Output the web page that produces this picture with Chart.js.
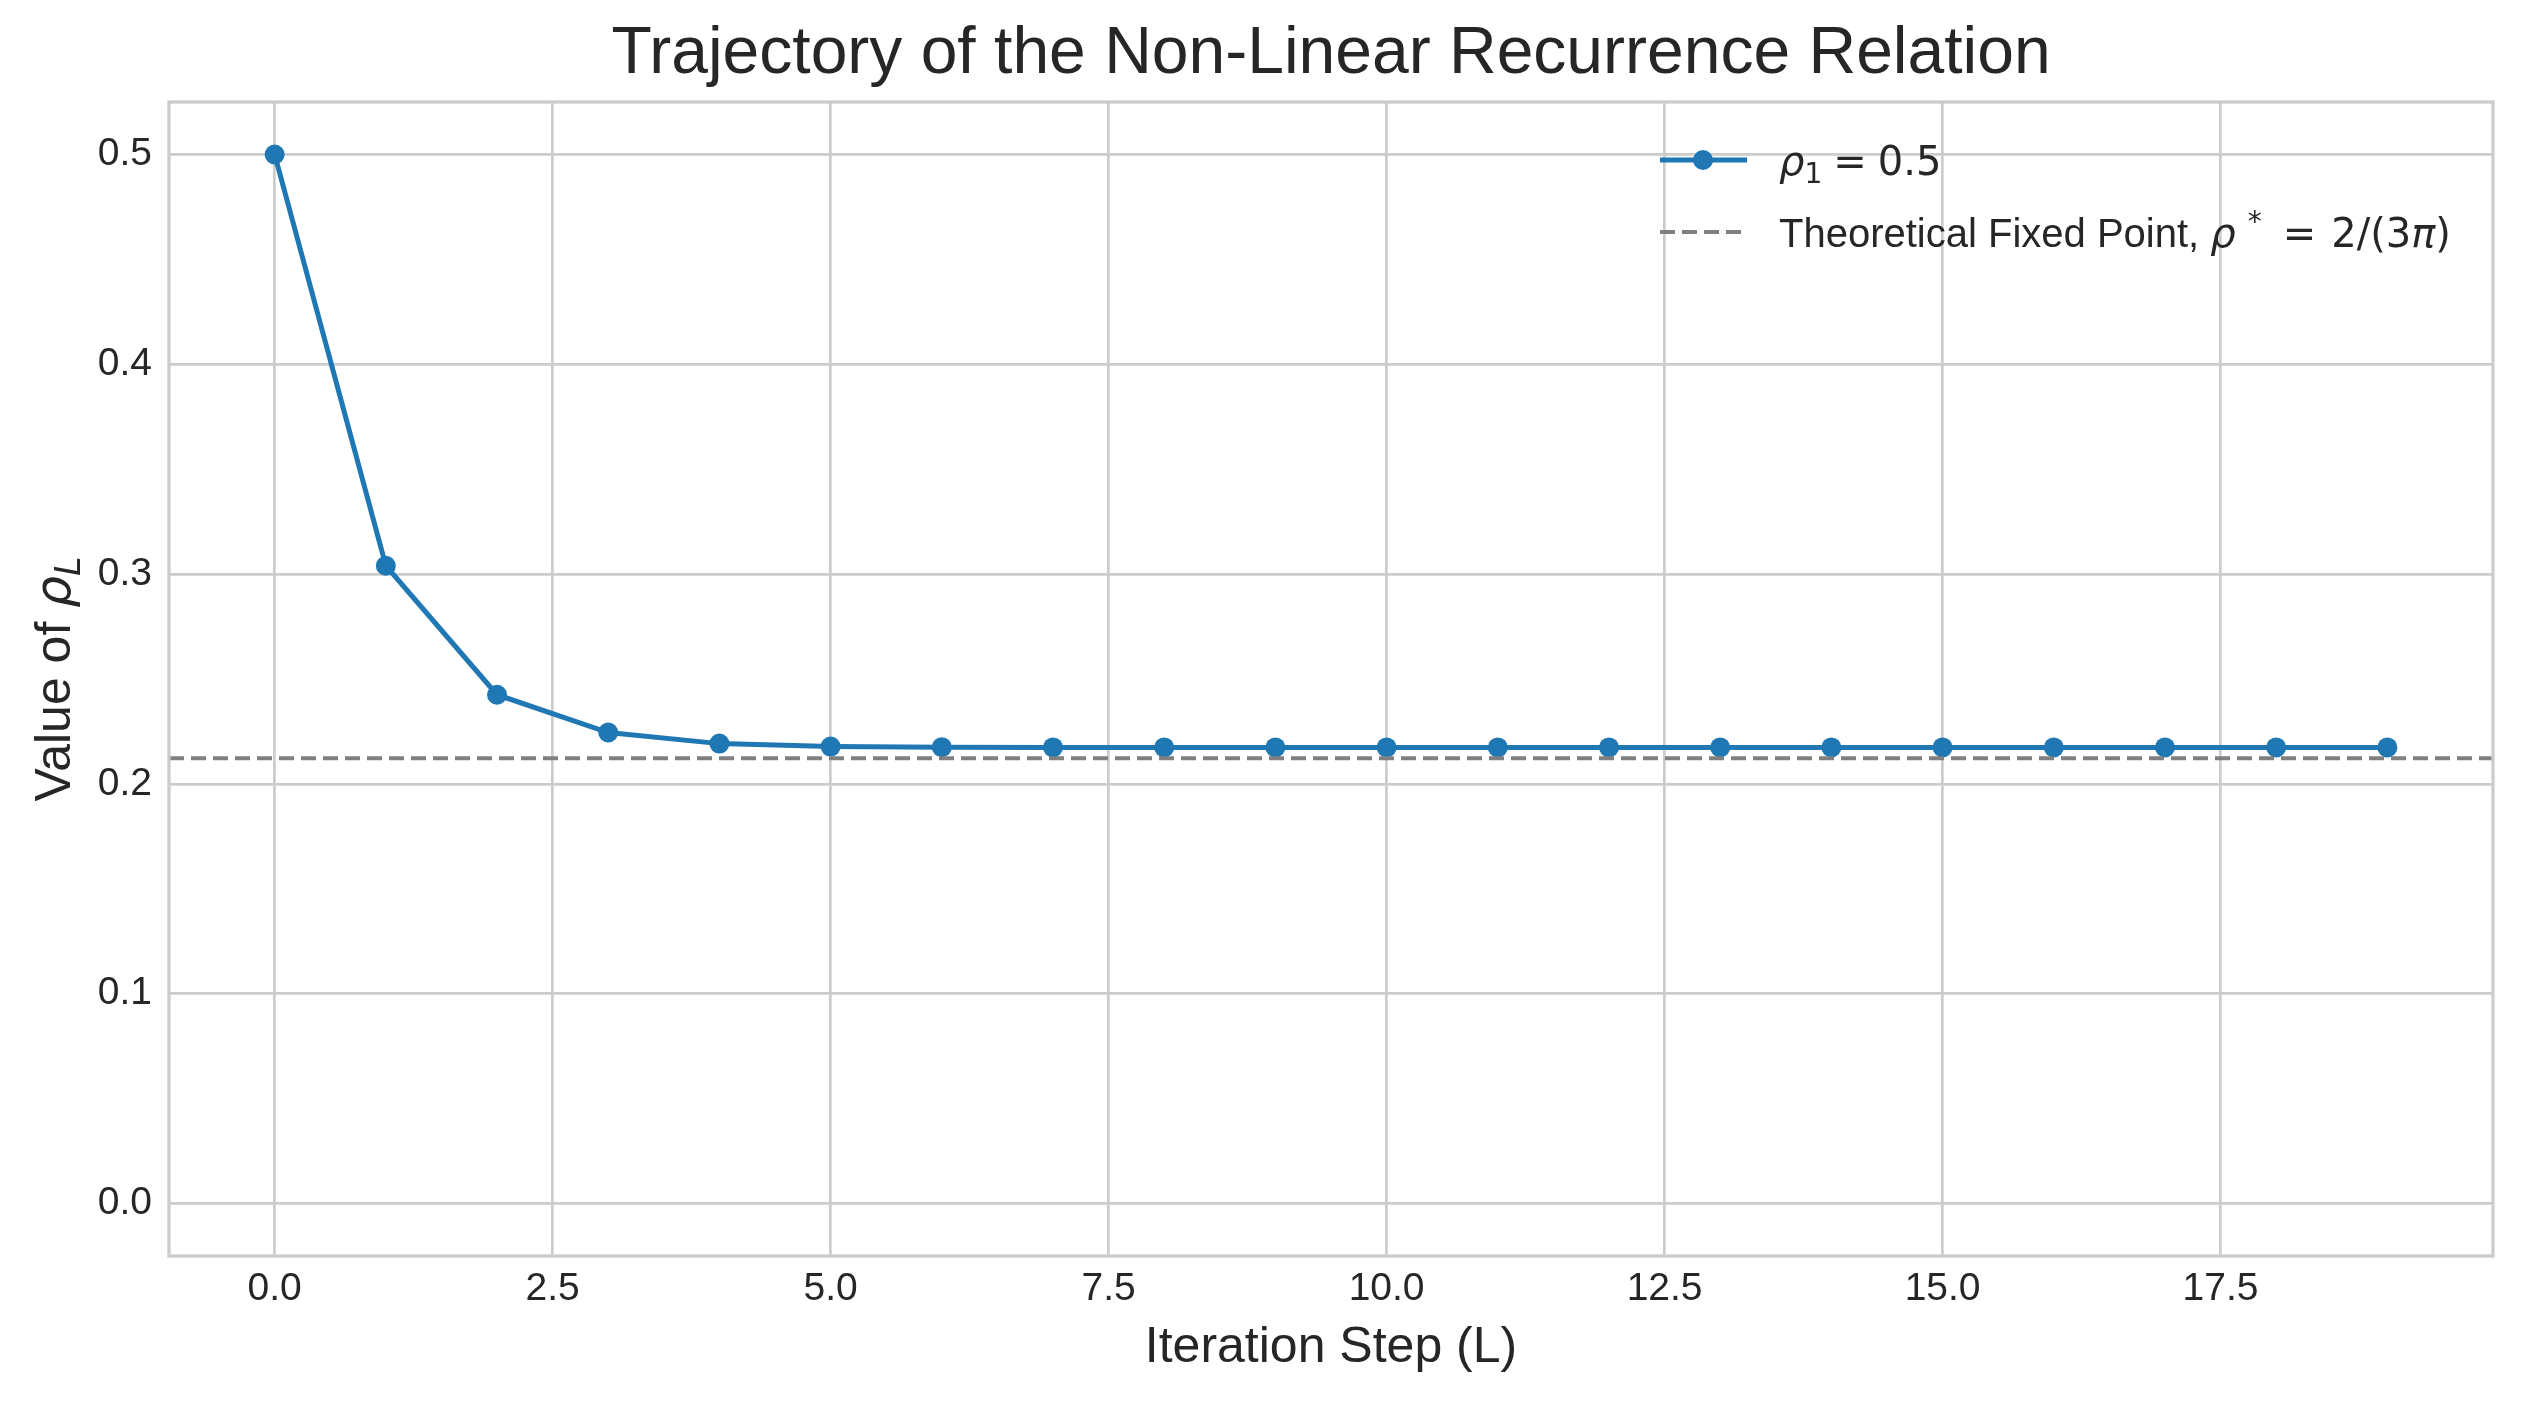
<!DOCTYPE html>
<html><head><meta charset="utf-8">
<script src="https://cdn.jsdelivr.net/npm/chart.js@4.4.0/dist/chart.umd.min.js"></script>
<style>html,body{margin:0;padding:0;background:#fff;}canvas{display:block;}</style>
</head><body>
<canvas id="c" width="2524" height="1405"></canvas>
<script>
// ---- data ----
const steps = [0,1,2,3,4,5,6,7,8,9,10,11,12,13,14,15,16,17,18,19];
const rhoValues = [0.5,0.304,0.2425,0.2245,0.2192,0.2178,0.2175,0.2174,0.2174,0.2174,0.2174,0.2174,0.2174,0.2174,0.2174,0.2174,0.2174,0.2174,0.2174,0.2174];
const FIXED_POINT = 0.2122; // 2/(3π)
const xTickValues = [0,2.5,5,7.5,10,12.5,15,17.5];
const yTickValues = [0,0.1,0.2,0.3,0.4,0.5];
const xLimits = [-0.95, 19.95];
const yLimits = [-0.025, 0.525];
const titleText = 'Trajectory of the Non-Linear Recurrence Relation';
const xTitle = 'Iteration Step (L)';
const seriesLabel = 'ρ1 = 0.5';
const fixedLabel = 'Theoretical Fixed Point, ρ* = 2/(3π)';

const TXT = '#262626', GRID = '#cccccc', BLUE = '#1f77b4', GRAY = '#808080';
const SANS = '"Liberation Sans", Arial, sans-serif';
const MATH = '"DejaVu Sans", sans-serif';

function richWidth(ctx, parts){
  let w = 0; for (const p of parts){ ctx.font = p.font; w += (p.dx||0) + ctx.measureText(p.text).width; } return w;
}
function drawRich(ctx, parts, x, y){
  let cx = x;
  for (const p of parts){ ctx.font = p.font; cx += (p.dx||0); ctx.fillText(p.text, cx, y + (p.dy||0)); cx += ctx.measureText(p.text).width; }
}

const LF = 40;
const legendRich = [
  [ {text:'ρ', font:`italic ${LF}px ${MATH}`}, {text:'1', font:`${LF*0.7}px ${MATH}`, dy:8}, {text:'=', font:`${LF}px ${MATH}`, dx:11},
    {text:'0.5', font:`${LF}px ${MATH}`, dx:11} ],
  [ {text:'Theoretical Fixed Point, ', font:`${LF}px ${SANS}`}, {text:'ρ', font:`italic ${LF}px ${MATH}`},
    {text:'*', font:`${LF*0.7}px ${MATH}`, dy:-16, dx:12}, {text:'=', font:`${LF}px ${MATH}`, dx:21},
    {text:'2/(3', font:`${LF}px ${MATH}`, dx:15},
    {text:'π', font:`italic ${LF}px ${MATH}`}, {text:')', font:`${LF}px ${MATH}`} ]
];
const YF = 50;
const yTitleRich = [ {text:'Value of ', font:`${YF}px ${SANS}`}, {text:'ρ', font:`italic ${YF}px ${MATH}`}, {text:'L', font:`italic ${YF*0.7}px ${MATH}`, dy:10} ];

const decor = {
  id:'decor',
  afterDraw(chart){
    const ctx = chart.ctx, a = chart.chartArea;
    ctx.save();
    // frame
    ctx.strokeStyle = GRID; ctx.lineWidth = 3.3;
    ctx.strokeRect(a.left, a.top, a.right - a.left, a.bottom - a.top);
    // y title
    ctx.fillStyle = TXT; ctx.textBaseline = 'alphabetic';
    const w = richWidth(ctx, yTitleRich);
    ctx.save();
    ctx.translate(70, (a.top + a.bottom)/2);
    ctx.rotate(-Math.PI/2);
    drawRich(ctx, yTitleRich, -w/2, 0);
    ctx.restore();
    // legend
    const rows = [160, 232];
    chart.data.datasets.forEach((ds, i) => {
      const y = rows[i];
      ctx.save();
      ctx.strokeStyle = ds.borderColor; ctx.lineWidth = ds.borderWidth;
      ctx.setLineDash(ds.borderDash || []);
      ctx.beginPath(); ctx.moveTo(1660, y); ctx.lineTo(1747, y); ctx.stroke();
      if (ds.pointRadius > 0){
        ctx.fillStyle = ds.backgroundColor; ctx.beginPath(); ctx.arc(1703, y, ds.pointRadius, 0, Math.PI*2); ctx.fill();
      }
      ctx.restore();
      ctx.fillStyle = TXT;
      drawRich(ctx, legendRich[i], 1779, y + 15);
    });
    ctx.restore();
  }
};

new Chart(document.getElementById('c'), {
  type:'line',
  data:{ datasets:[
    { label: seriesLabel, data: steps.map((s,i)=>({x:s, y:rhoValues[i]})), borderColor:BLUE, backgroundColor:BLUE,
      borderWidth:5, pointRadius:10, pointHoverRadius:10, pointBorderWidth:0, tension:0, order:2 },
    { label: fixedLabel, data:[{x:xLimits[0], y:FIXED_POINT},{x:xLimits[1], y:FIXED_POINT}], borderColor:GRAY, backgroundColor:GRAY,
      borderWidth:4, borderDash:[15,7], pointRadius:0, tension:0, order:1 }
  ]},
  options:{
    responsive:false, devicePixelRatio:1, animation:false,
    layout:{ padding:{ left:0, right:31, top:0, bottom:0 } },
    plugins:{
      legend:{ display:false }, tooltip:{ enabled:false },
      title:{ display:true, text:titleText, fullSize:false, color:TXT,
        font:{ family:SANS, size:66, weight:'normal', lineHeight:1.2 }, padding:{ top:15.4, bottom:7.4 } }
    },
    scales:{
      x:{ type:'linear', min:xLimits[0], max:xLimits[1],
        afterBuildTicks: s => { s.ticks = xTickValues.map(v=>({value:v})); },
        afterFit: s => { s.height = 149; },
        ticks:{ callback: v => Number(v).toFixed(1), color:TXT, font:{ family:SANS, size:39 }, padding:10, maxRotation:0, autoSkip:false },
        grid:{ color:GRID, lineWidth:2.7, drawTicks:false }, border:{ display:false },
        title:{ display:true, text:xTitle, color:TXT, font:{ family:SANS, size:50 }, padding:{ top:0, bottom:27 } } },
      y:{ type:'linear', min:yLimits[0], max:yLimits[1],
        afterBuildTicks: s => { s.ticks = yTickValues.map(v=>({value:v})); },
        afterFit: s => { s.width = 169; },
        ticks:{ callback: v => Number(v).toFixed(1), color:TXT, font:{ family:SANS, size:39 }, padding:17, autoSkip:false },
        grid:{ color:GRID, lineWidth:2.7, drawTicks:false }, border:{ display:false } }
    }
  },
  plugins:[decor]
});
</script>
</body></html>
